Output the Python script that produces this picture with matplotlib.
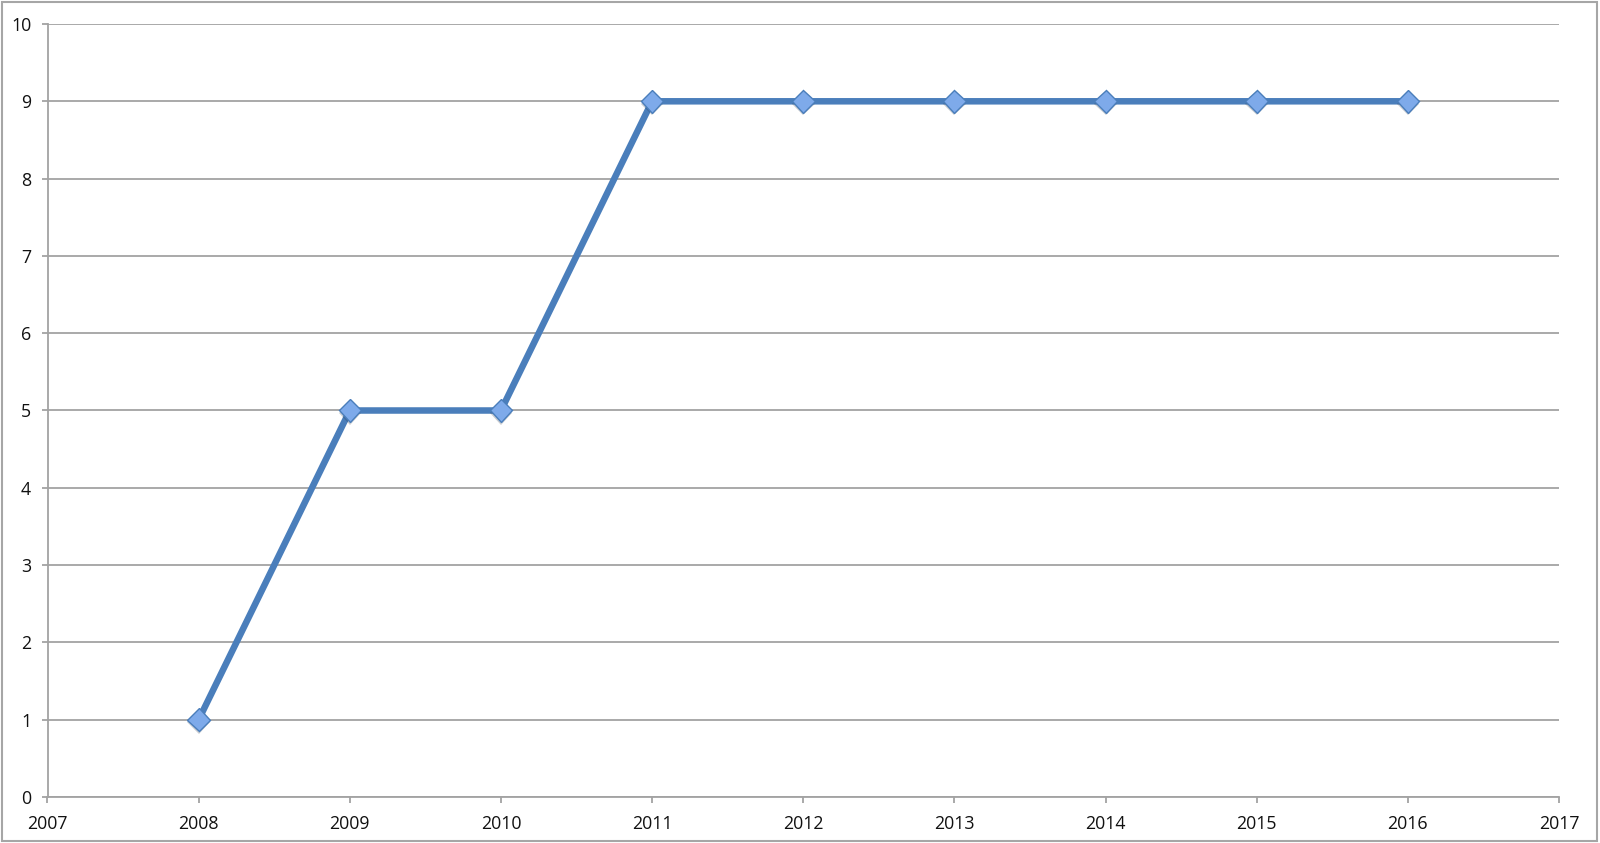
import matplotlib
matplotlib.use("Agg")
import matplotlib.pyplot as plt
from matplotlib.patches import Rectangle
import matplotlib.patheffects as pe

years = [2008, 2009, 2010, 2011, 2012, 2013, 2014, 2015, 2016]
values = [1, 5, 5, 9, 9, 9, 9, 9, 9]
x_ticks = list(range(2007, 2018))
y_ticks = list(range(0, 11))

plt.rcParams["font.family"] = ["Open Sans", "DejaVu Sans"]

W, H = 1600, 843
fig = plt.figure(figsize=(W / 100, H / 100), dpi=100)
fig.patch.set_facecolor("white")
fig.patches.append(Rectangle((1.5 / W, 2 / H), (W - 5) / W, (H - 4) / H,
                             transform=fig.transFigure, fill=False,
                             edgecolor="#a6a6a6", linewidth=1.5))

l, r, b, t = 47.5 / W, 1559 / W, (H - 797) / H, (H - 24) / H
ax = fig.add_axes([l, b, r - l, t - b])
ax.set_xlim(2007, 2017)
ax.set_ylim(0, 10)
ax.set_xticks(x_ticks)
ax.set_yticks(y_ticks)
ax.set_xticklabels([str(v) for v in x_ticks], fontweight="medium")
ax.set_yticklabels([str(v) for v in y_ticks], fontweight="medium")
gray = "#a3a3a3"
for s in ["top", "right"]:
    ax.spines[s].set_visible(False)
for s in ["left", "bottom"]:
    ax.spines[s].set_color(gray)
    ax.spines[s].set_linewidth(1.3)
ax.grid(axis="y", color=gray, linewidth=1.3)
ax.set_axisbelow(True)
ax.tick_params(axis="both", colors=gray, labelcolor="#111111", labelsize=12.8,
               length=4.3, width=1.3)
ax.tick_params(axis="x", pad=8.5)
ax.tick_params(axis="y", pad=7.5)

ax.plot(years, values, color="#4a7ebb", linewidth=4.7, zorder=3,
        solid_joinstyle="round")
ax.plot(years, values, linestyle="none", marker="D", markersize=11.5,
        markerfacecolor="#7eaaea", markeredgecolor="#4a7ebb",
        markeredgewidth=1.0, zorder=4,
        path_effects=[pe.SimplePatchShadow(offset=(0, -2), alpha=0.25), pe.Normal()])

fig.savefig("out.png", dpi=100, facecolor="white")
